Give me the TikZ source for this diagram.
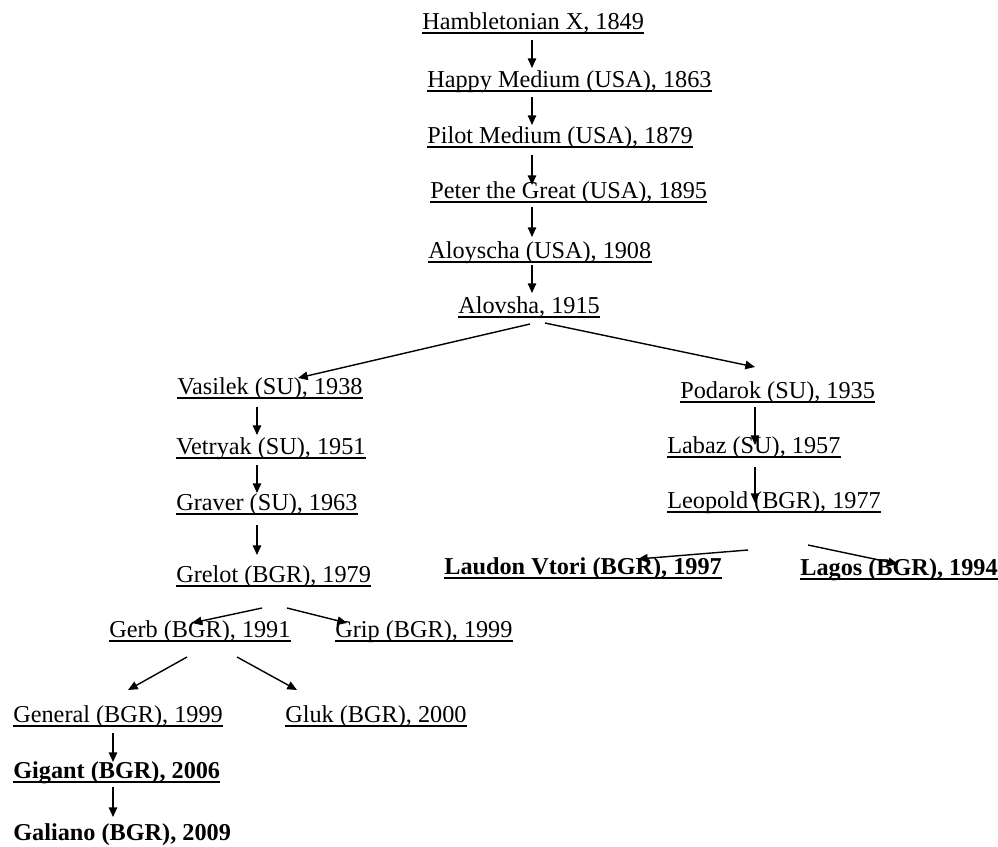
\documentclass[tikz,border=0pt]{standalone}
\usepackage{fontspec}
\setmainfont{Liberation Serif}
\usetikzlibrary{arrows.meta,calc}

\begin{document}
\begin{tikzpicture}[x=0.02cm, y=-0.02cm, >={Triangle[length=5.5pt,width=4.8pt]},
    horse/.style={anchor=base west, inner sep=0pt, font=\fontsize{13.8}{16}\selectfont},
    champ/.style={horse, font=\fontsize{13.8}{16}\selectfont\bfseries},
    uline/.style={line width=0.8pt},
    link/.style={line width=0.8pt, ->}]
            \useasboundingbox (0,0) rectangle (998,846);

            % main line
            \node[horse] (ham) at (422,29) {Hambletonian X, 1849};
            \node[horse] (hap) at (427,87) {Happy Medium (USA), 1863};
            \node[horse] (pil) at (427,143) {Pilot Medium (USA), 1879};
            \node[horse] (pet) at (430,198) {Peter the Great (USA), 1895};
            \node[horse] (alc) at (428,258) {Aloyscha (USA), 1908};
            \node[horse] (alv) at (458,313) {Alovsha, 1915};

            % left branch
            \node[horse] (vas) at (177,394) {Vasilek (SU), 1938};
            \node[horse] (vet) at (176,454) {Vetryak (SU), 1951};
            \node[horse] (gra) at (176,510) {Graver (SU), 1963};
            \node[horse] (gre) at (176,582) {Grelot (BGR), 1979};
            \node[horse] (gerb) at (109,637) {Gerb (BGR), 1991};
            \node[horse] (grip) at (335,637) {Grip (BGR), 1999};
            \node[horse] (gen) at (13,722) {General (BGR), 1999};
            \node[horse] (glu) at (285,722) {Gluk (BGR), 2000};
            \node[champ] (gig) at (13,778) {Gigant (BGR), 2006};
            \node[champ] (gal) at (13,840) {Galiano (BGR), 2009};

            % right branch
            \node[horse] (pod) at (680,398) {Podarok (SU), 1935};
            \node[horse] (lab) at (667,453) {Labaz (SU), 1957};
            \node[horse] (leo) at (667,508) {Leopold (BGR), 1977};
            \node[champ] (lau) at (444,574) {Laudon Vtori (BGR), 1997};
            \node[champ] (lag) at (800,575) {Lagos (BGR), 1994};

            % underlines
            \draw[uline] ($(ham.base west)+(0,4)$) -- ($(ham.base east)+(0,4)$);
            \draw[uline] ($(hap.base west)+(0,4)$) -- ($(hap.base east)+(0,4)$);
            \draw[uline] ($(pil.base west)+(0,4)$) -- ($(pil.base east)+(0,4)$);
            \draw[uline] ($(pet.base west)+(0,4)$) -- ($(pet.base east)+(0,4)$);
            \draw[uline] ($(alc.base west)+(0,4)$) -- ($(alc.base east)+(0,4)$);
            \draw[uline] ($(alv.base west)+(0,4)$) -- ($(alv.base east)+(0,4)$);
            \draw[uline] ($(vas.base west)+(0,4)$) -- ($(vas.base east)+(0,4)$);
            \draw[uline] ($(vet.base west)+(0,4)$) -- ($(vet.base east)+(0,4)$);
            \draw[uline] ($(gra.base west)+(0,4)$) -- ($(gra.base east)+(0,4)$);
            \draw[uline] ($(gre.base west)+(0,4)$) -- ($(gre.base east)+(0,4)$);
            \draw[uline] ($(gerb.base west)+(0,4)$) -- ($(gerb.base east)+(0,4)$);
            \draw[uline] ($(grip.base west)+(0,4)$) -- ($(grip.base east)+(0,4)$);
            \draw[uline] ($(gen.base west)+(0,4)$) -- ($(gen.base east)+(0,4)$);
            \draw[uline] ($(glu.base west)+(0,4)$) -- ($(glu.base east)+(0,4)$);
            \draw[uline] ($(gig.base west)+(0,4)$) -- ($(gig.base east)+(0,4)$);
            \draw[uline] ($(pod.base west)+(0,4)$) -- ($(pod.base east)+(0,4)$);
            \draw[uline] ($(lab.base west)+(0,4)$) -- ($(lab.base east)+(0,4)$);
            \draw[uline] ($(leo.base west)+(0,4)$) -- ($(leo.base east)+(0,4)$);
            \draw[uline] ($(lau.base west)+(0,4)$) -- ($(lau.base east)+(0,4)$);
            \draw[uline] ($(lag.base west)+(0,4)$) -- ($(lag.base east)+(0,4)$);

            % arrows, main line
            \draw[link] ($(ham.base west)+(110,11)$) -- ($(hap.base west)+(105,-19)$);
            \draw[link] ($(hap.base west)+(105,10)$) -- ($(pil.base west)+(105,-18)$);
            \draw[link] ($(pil.base west)+(105,12)$) -- ($(pet.base west)+(102,-13)$);
            \draw[link] ($(pet.base west)+(102,9)$) -- ($(alc.base west)+(104,-21)$);
            \draw[link] ($(alc.base west)+(104,7)$) -- ($(alv.base west)+(74,-20)$);
            \draw[link] ($(alv.base west)+(72,11)$) -- ($(vas.base west)+(121,-16)$);
            \draw[link] ($(alv.base west)+(87,10)$) -- ($(pod.base west)+(75,-31)$);

            % arrows, left branch
            \draw[link] ($(vas.base west)+(80,13)$) -- ($(vet.base west)+(81,-19)$);
            \draw[link] ($(vet.base west)+(81,11)$) -- ($(gra.base west)+(81,-17)$);
            \draw[link] ($(gra.base west)+(81,15)$) -- ($(gre.base west)+(81,-27)$);
            \draw[link] ($(gre.base west)+(86,26)$) -- ($(gerb.base west)+(83,-14)$);
            \draw[link] ($(gre.base west)+(111,26)$) -- ($(grip.base west)+(12,-14)$);
            \draw[link] ($(gerb.base west)+(78,20)$) -- ($(gen.base west)+(115,-32)$);
            \draw[link] ($(gerb.base west)+(128,20)$) -- ($(glu.base west)+(12,-32)$);
            \draw[link] ($(gen.base west)+(100,11)$) -- ($(gig.base west)+(100,-16)$);
            \draw[link] ($(gig.base west)+(100,9)$) -- ($(gal.base west)+(100,-23)$);

            % arrows, right branch
            \draw[link] ($(pod.base west)+(75,9)$) -- ($(lab.base west)+(88,-8)$);
            \draw[link] ($(lab.base west)+(88,14)$) -- ($(leo.base west)+(88,-5)$);
            \draw[link] ($(leo.base west)+(81,42)$) -- ($(lau.base west)+(194,-15)$);
            \draw[link] ($(leo.base west)+(141,37)$) -- ($(lag.base west)+(98,-11)$);
        \end{tikzpicture}
\end{document}
